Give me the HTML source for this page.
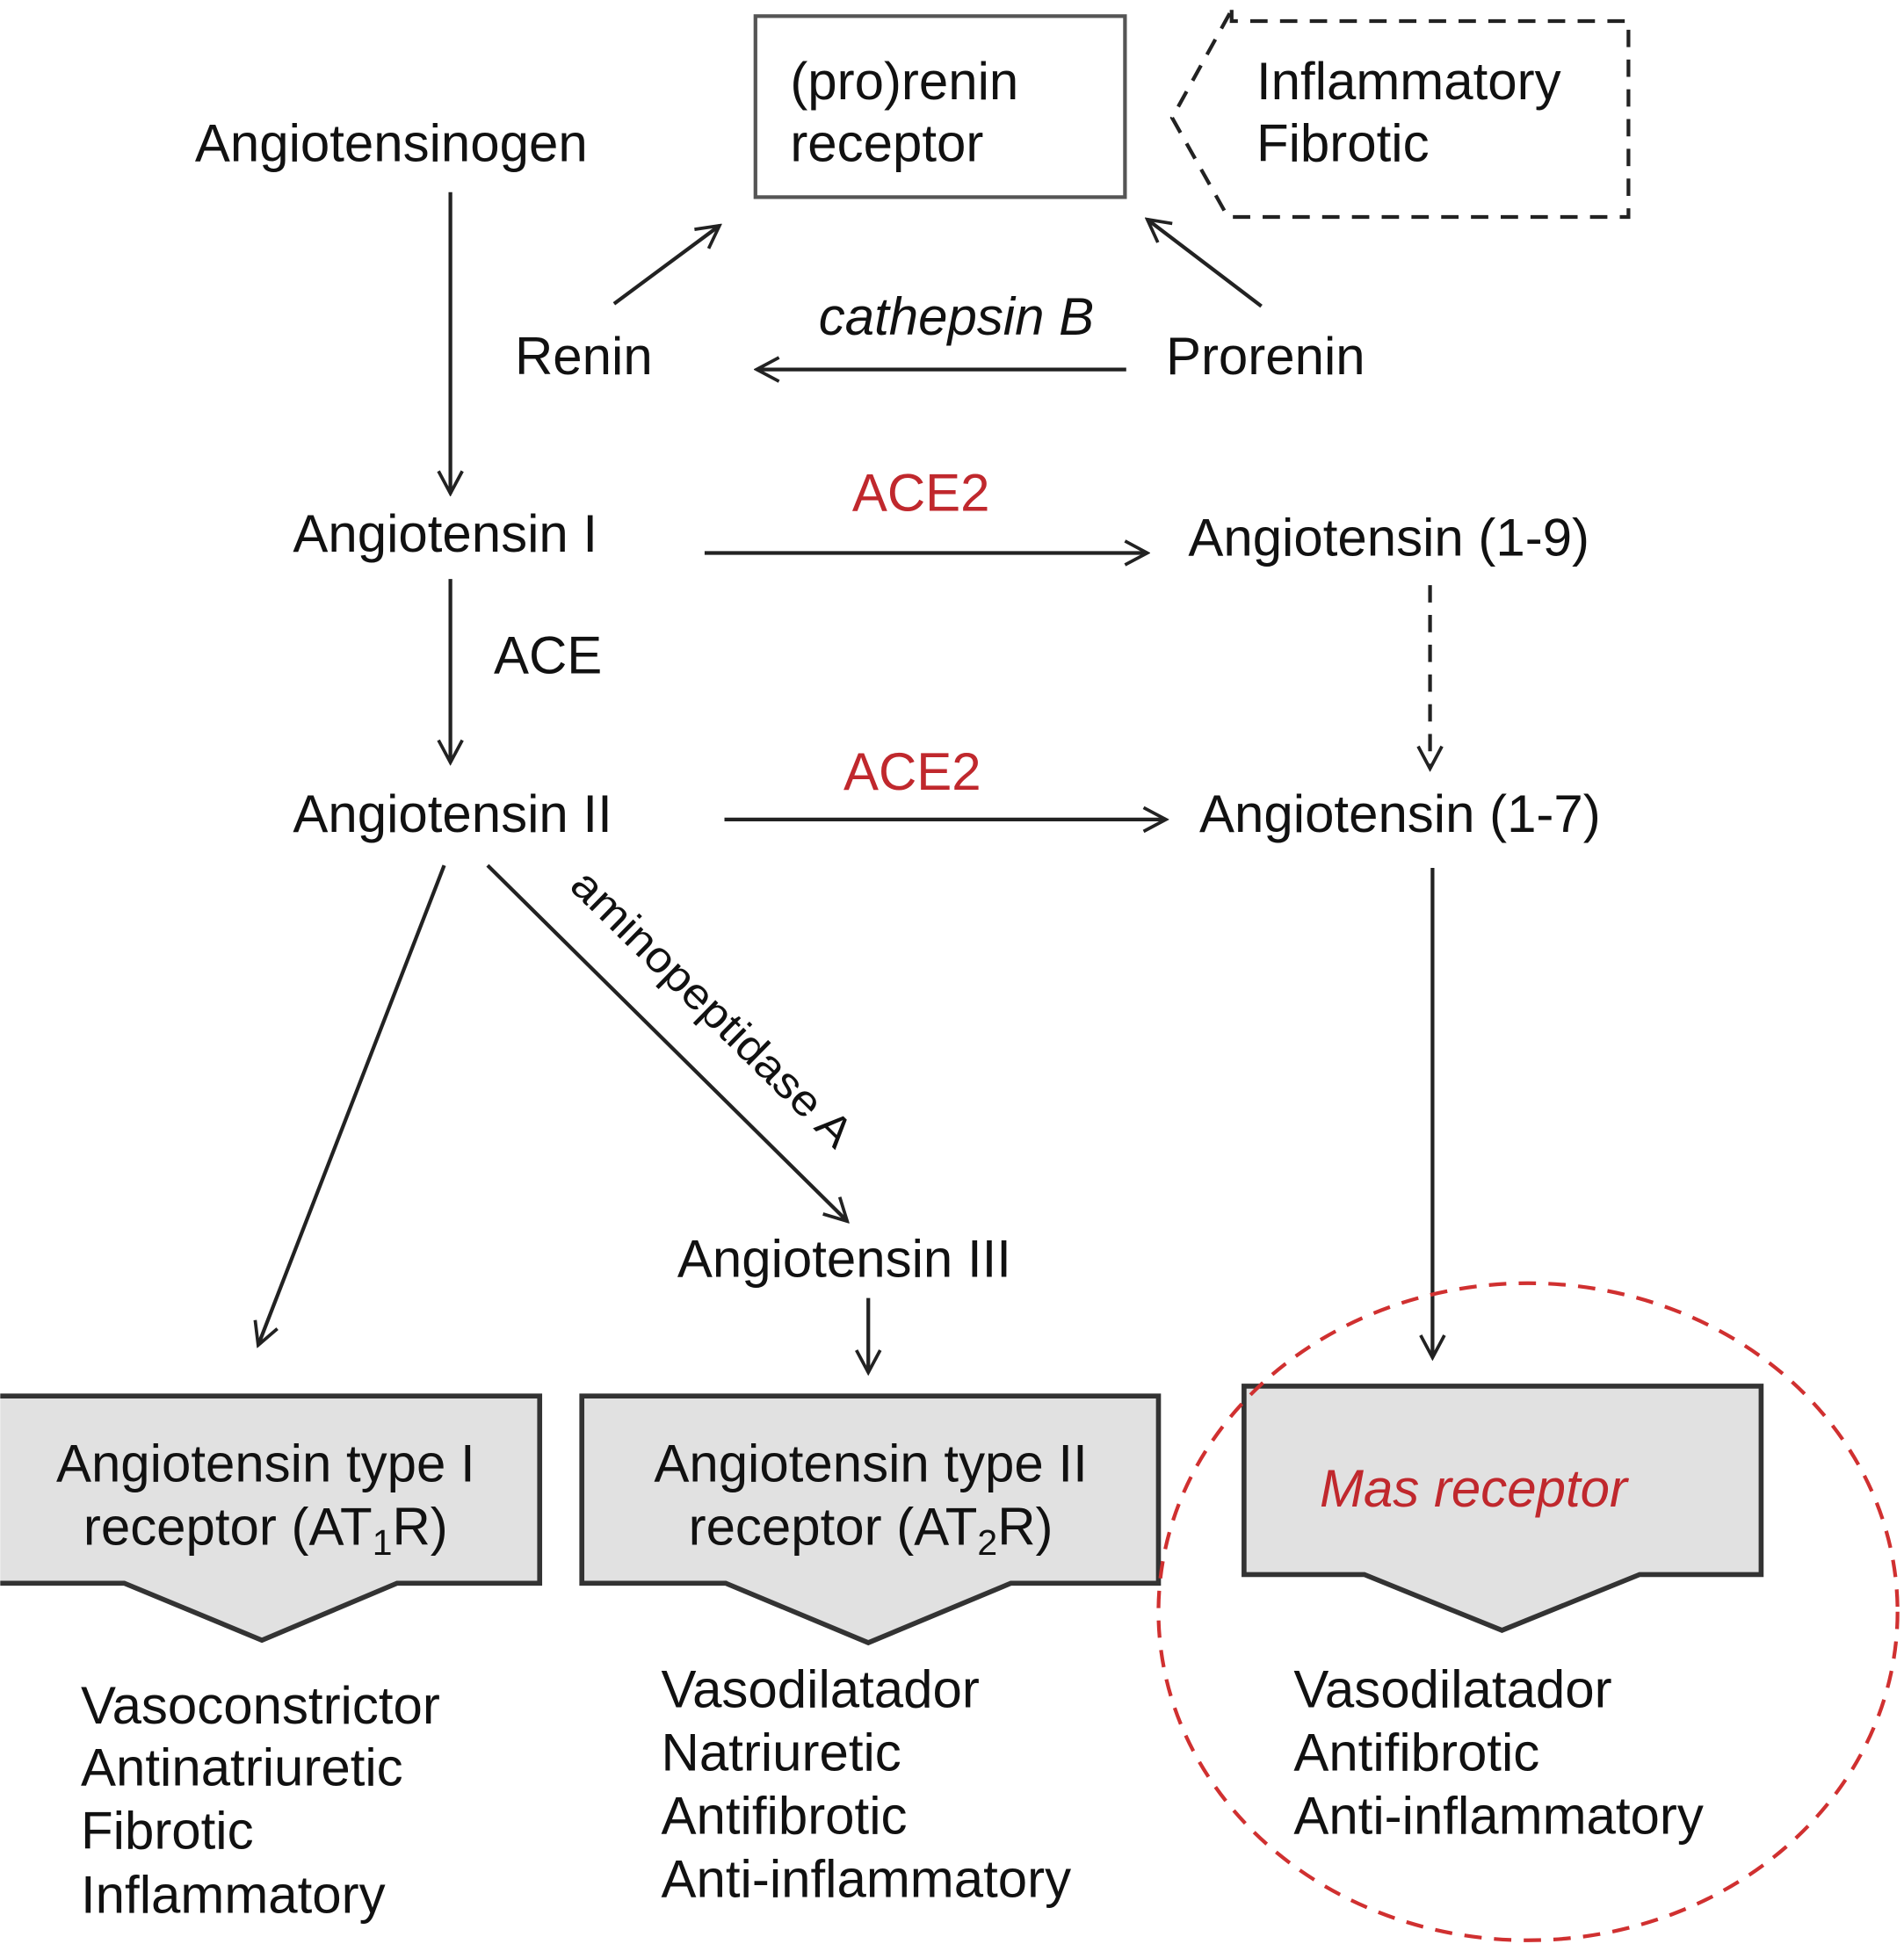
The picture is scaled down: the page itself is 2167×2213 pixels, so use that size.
<!DOCTYPE html>
<html><head><meta charset="utf-8"><style>
html,body{margin:0;padding:0;background:#fff;}
svg{display:block;}
text{font-family:"Liberation Sans",sans-serif;font-size:42.5px;fill:#111;}
.r{fill:#c0282d;}
</style></head><body>
<svg width="2167" height="2213" viewBox="0 0 1535 1568" xmlns="http://www.w3.org/2000/svg">
<defs>
<marker id="a" viewBox="0 0 20 20" refX="18" refY="10" markerWidth="24" markerHeight="24" markerUnits="userSpaceOnUse" orient="auto">
<path d="M3,2 L18,10 L3,18" fill="none" stroke="#222" stroke-width="2.2"/>
</marker>
</defs>
<g stroke="#222" stroke-width="3" fill="none">
<rect x="609" y="13" width="298" height="146" stroke="#555"/>
<path d="M993,8 L993,17 L1313,17 L1313,175 L990,175 L945,95 Z" stroke-dasharray="14,10"/>
<line x1="363" y1="155" x2="363" y2="398" marker-end="url(#a)"/>
<line x1="495" y1="245" x2="580" y2="182" marker-end="url(#a)"/>
<line x1="1017" y1="247" x2="925" y2="177" marker-end="url(#a)"/>
<line x1="908" y1="298" x2="610" y2="298" marker-end="url(#a)"/>
<line x1="568" y1="446" x2="925" y2="446" marker-end="url(#a)"/>
<line x1="1153" y1="472" x2="1153" y2="620" stroke-dasharray="14,10" marker-end="url(#a)"/>
<line x1="363" y1="467" x2="363" y2="615" marker-end="url(#a)"/>
<line x1="584" y1="661" x2="940" y2="661" marker-end="url(#a)"/>
<line x1="1155" y1="700" x2="1155" y2="1095" marker-end="url(#a)"/>
<line x1="358" y1="698" x2="208" y2="1085" marker-end="url(#a)"/>
<line x1="393" y1="698" x2="683" y2="985" marker-end="url(#a)"/>
<line x1="700" y1="1047" x2="700" y2="1107" marker-end="url(#a)"/>
</g>
<g fill="#e1e1e1" stroke="#333" stroke-width="4">
<path d="M0,1126 L435,1126 L435,1277 L320,1277 L211,1323 L100,1277 L0,1277"/>
<path d="M469,1126 L934,1126 L934,1277 L815,1277 L700,1325 L585,1277 L469,1277 Z"/>
<path d="M1003,1118 L1420,1118 L1420,1270 L1322,1270 L1211,1315 L1100,1270 L1003,1270 Z"/>
</g>
<ellipse cx="1232" cy="1300" rx="298" ry="265" fill="none" stroke="#d03030" stroke-width="3" stroke-dasharray="14,10"/>
<text x="157" y="130">Angiotensinogen</text>
<text x="637" y="80">(pro)renin</text>
<text x="637" y="130">receptor</text>
<text x="1013" y="80">Inflammatory</text>
<text x="1013" y="130">Fibrotic</text>
<text x="415" y="302">Renin</text>
<text x="940" y="302">Prorenin</text>
<text x="660" y="270" font-style="italic">cathepsin B</text>
<text x="236" y="445">Angiotensin I</text>
<text x="687" y="412" class="r">ACE2</text>
<text x="958" y="448">Angiotensin (1-9)</text>
<text x="398" y="543">ACE</text>
<text x="236" y="671">Angiotensin II</text>
<text x="680" y="637" class="r">ACE2</text>
<text x="967" y="671">Angiotensin (1-7)</text>
<text x="0" y="0" transform="translate(458,716) rotate(44.5)" style="font-size:35px" textLength="302" lengthAdjust="spacingAndGlyphs">aminopeptidase A</text>
<text x="546" y="1030">Angiotensin III</text>
<text x="214" y="1195" text-anchor="middle">Angiotensin type I</text>
<text x="214" y="1246" text-anchor="middle">receptor (AT<tspan font-size="29" dy="8">1</tspan><tspan dy="-8">R)</tspan></text>
<text x="702" y="1195" text-anchor="middle">Angiotensin type II</text>
<text x="702" y="1246" text-anchor="middle">receptor (AT<tspan font-size="29" dy="8">2</tspan><tspan dy="-8">R)</tspan></text>
<text x="1188" y="1215" text-anchor="middle" class="r" font-style="italic">Mas receptor</text>
<text x="65" y="1390">Vasoconstrictor</text>
<text x="65" y="1440">Antinatriuretic</text>
<text x="65" y="1491">Fibrotic</text>
<text x="65" y="1543">Inflammatory</text>
<text x="533" y="1377">Vasodilatador</text>
<text x="533" y="1428">Natriuretic</text>
<text x="533" y="1479">Antifibrotic</text>
<text x="533" y="1530">Anti-inflammatory</text>
<text x="1043" y="1377">Vasodilatador</text>
<text x="1043" y="1428">Antifibrotic</text>
<text x="1043" y="1479">Anti-inflammatory</text>
</svg>
</body></html>
